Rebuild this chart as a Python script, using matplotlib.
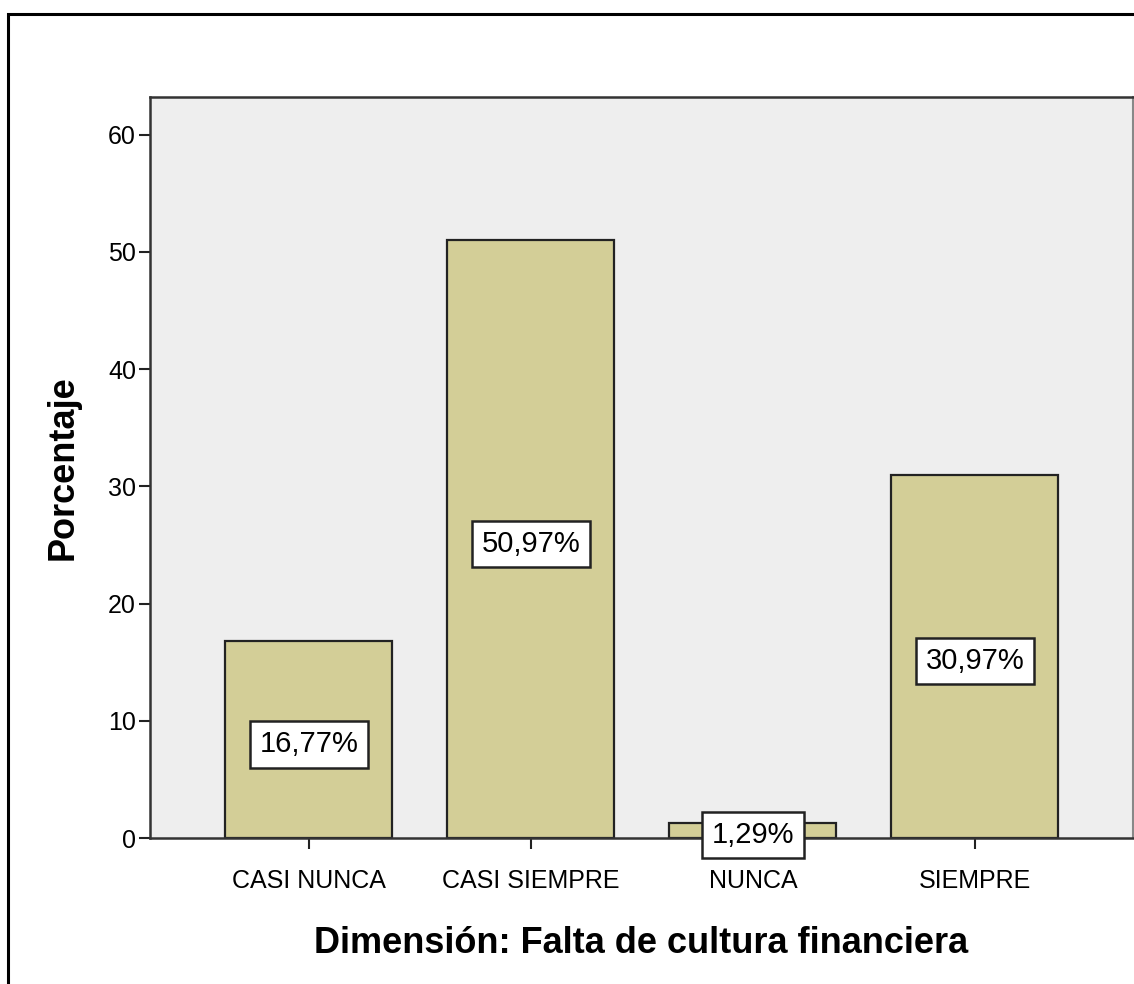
import matplotlib.pyplot as plt
from matplotlib.patches import Rectangle

# --- Data ---
categories = ['CASI NUNCA', 'CASI SIEMPRE', 'NUNCA', 'SIEMPRE']
percentages = [16.77, 50.97, 1.29, 30.97]
bar_labels = ['16,77%', '50,97%', '1,29%', '30,97%']
y_ticks = [0, 10, 20, 30, 40, 50, 60]

plt.rcParams['font.family'] = ['Liberation Sans', 'DejaVu Sans']

fig = plt.figure(figsize=(11.34, 9.84), dpi=100)
ax = fig.add_axes([150/1134, 1 - 838/984, 983/1134, (838-97)/984])

# outer frame (left and top visible)
fig.patches.append(Rectangle((8/1134, -0.1), 1.2, 1 - 14/984 + 0.1,
                             transform=fig.transFigure, fill=False,
                             edgecolor='black', lw=2.2))

ax.set_facecolor('#EEEEEE')
x = list(range(len(categories)))
ax.bar(x, percentages, width=0.752, color='#D3CE97', edgecolor='#222222', lw=1.6, zorder=2)

for xi, v, lab in zip(x, percentages, bar_labels):
    ax.text(xi, v / 2 - 0.4, lab, ha='center', va='center', fontsize=21, zorder=3,
            bbox=dict(boxstyle='square,pad=0.32', fc='white', ec='#222222', lw=1.8))

ax.set_xlim(-0.716, 3.712)
ax.set_ylim(0, 63.2)
ax.set_yticks(y_ticks)
ax.set_xticks(x)
ax.set_xticklabels(categories)
ax.tick_params(axis='both', labelsize=18, length=8, width=1.5, color='#222222', pad=2)
ax.tick_params(axis='x', pad=14)

for s in ['left', 'bottom', 'top']:
    ax.spines[s].set_color('#333333')
    ax.spines[s].set_linewidth(1.8)
ax.spines['right'].set_color('#888888')
ax.spines['right'].set_linewidth(1.5)

ax.set_ylabel('Porcentaje', fontsize=26, fontweight='bold', labelpad=20)
ax.set_xlabel('Dimensión: Falta de cultura financiera', fontsize=26, fontweight='bold', labelpad=24)

fig.savefig('out.png', dpi=100)
